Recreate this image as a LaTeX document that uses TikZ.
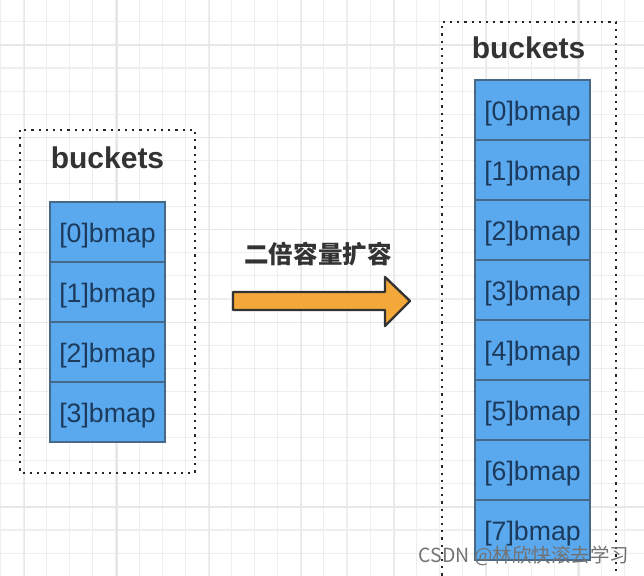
\documentclass[tikz,border=0pt]{standalone}
\usepackage{fontspec}
\setmainfont{Liberation Sans}
\newfontfamily\cjkfont{Noto Sans CJK SC}
\usepackage{tikz}

\definecolor{gridminor}{RGB}{238,238,238}
\definecolor{gridmajor}{RGB}{231,231,231}
\definecolor{cellblue}{RGB}{90,168,238}
\definecolor{cellline}{RGB}{72,104,136}
\definecolor{celltext}{RGB}{28,58,92}
\definecolor{darktext}{RGB}{51,51,51}
\definecolor{arroworange}{RGB}{245,168,58}

\tikzset{
  bmapcell/.style={draw=cellline, line width=0.9pt, fill=cellblue, minimum width=86.25pt, minimum height=45pt, inner sep=0pt, text height=18pt, text depth=3pt, text=celltext, font=\fontsize{20}{24}\selectfont},
  bucketlabel/.style={text=darktext, font=\bfseries\fontsize{22.5}{26}\selectfont, inner sep=0pt},
  dotframe/.style={draw=black!85, line width=1.7pt, dash pattern=on 1.7pt off 3.7pt}
}

\begin{document}
\begin{tikzpicture}[x=0.75pt,y=0.75pt,yscale=-1,xscale=1]
              \clip (0,0) rectangle (644,576);
              \fill[white] (0,0) rectangle (644,576);
              % grid paper
              \foreach \k in {0,...,27} \draw[gridminor, line width=0.8pt] (0.5+23.1*\k,0) -- (0.5+23.1*\k,576);
              \foreach \k in {-1,...,24} \draw[gridminor, line width=0.8pt] (0,21.8+23.1*\k) -- (644,21.8+23.1*\k);
              \foreach \k in {0,...,6} \draw[gridmajor, line width=0.9pt] (24.5+92.4*\k,0) -- (24.5+92.4*\k,576);
              \foreach \k in {0,...,5} \draw[gridmajor, line width=0.9pt] (0,45+92.4*\k) -- (644,45+92.4*\k);
              % old buckets
              \draw[dotframe] (20,130) rectangle (195,473);
              \node[bucketlabel] (oldlabel) at (107.5,158) {buckets};
              \foreach \i in {0,...,3} \node[bmapcell] (old\i) at (107.5,232+60*\i) {[\i]bmap};
              % new buckets
              \draw[dotframe] (442,590) -- (442,22) -- (616,22) -- (616,590);
              \node[bucketlabel] (newlabel) at (528.5,48) {buckets};
              \foreach \i in {0,...,7} \node[bmapcell] (new\i) at (532.5,110+60*\i) {[\i]bmap};
              % growth arrow
              \draw[fill=arroworange, draw=darktext, line width=1.8pt, line join=round] (233,292) -- (385,292) -- (385,277) -- (410,301) -- (385,326) -- (385,310) -- (233,310) -- cycle;
              \node[text=darktext, font=\cjkfont\bfseries\fontsize{18.4}{22}\selectfont, inner sep=0pt] (growlabel) at (318,254) {二倍容量扩容};
              % watermark
              \node[text=black!55, font=\cjkfont\fontsize{14.6}{18}\selectfont, inner sep=0pt] (mark) at (524,556) {CSDN @林欣快滚去学习};
              \end{tikzpicture}
\end{document}
